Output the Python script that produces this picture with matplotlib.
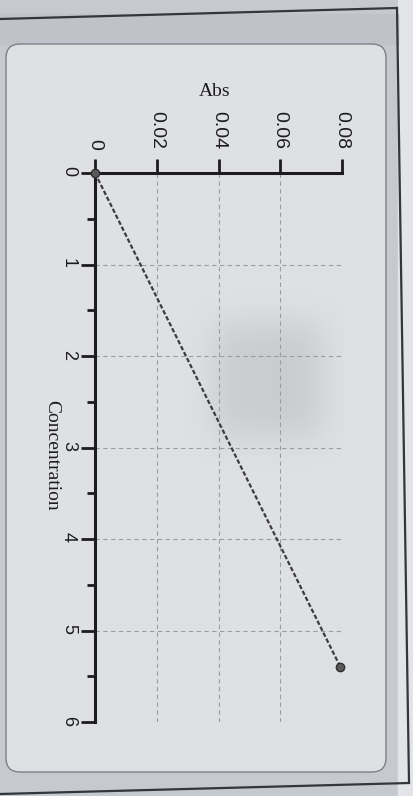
import matplotlib.pyplot as plt
import numpy as np
from matplotlib.patches import FancyBboxPatch, Rectangle
from matplotlib.ticker import MultipleLocator

# calibration data (photo of instrument screen, rotated 90 deg)
concentration = [0.0, 5.4]
absorbance = [0.0, 0.0795]

abs_ticks = [0, 0.02, 0.04, 0.06, 0.08]
abs_labels = ['0', '0.02', '0.04', '0.06', '0.08']
conc_ticks = [0, 1, 2, 3, 4, 5, 6]
conc_labels = ['0', '1', '2', '3', '4', '5', '6']

W, H = 413, 796
fig = plt.figure(figsize=(W / 100, H / 100), dpi=100, facecolor='#c6c9ce')

# background: paper, frame and screen panel
bg = fig.add_axes([0, 0, 1, 1])
bg.set_xlim(0, W)
bg.set_ylim(H, 0)
bg.axis('off')
bg.add_patch(Rectangle((398, 0), 20, H, color='#e2e4e7', zorder=0))
bg.add_patch(Rectangle((0, 14), 398, 30, color='#bfc2c8', zorder=0))
bg.add_patch(FancyBboxPatch((6, 44), 380, 728,
                            boxstyle='round,pad=0,rounding_size=14',
                            fc='#dee0e4', ec='#7d8086', lw=1.0, zorder=1))
bg.plot([0, 397], [19, 8], color='#33363a', lw=1.6, zorder=2)
bg.plot([397, 409], [8, 782], color='#33363a', lw=1.6, zorder=2)
bg.plot([0, 409], [794, 783], color='#33363a', lw=1.6, zorder=2)

# grey smudge from the photo
yy, xx = np.mgrid[0:1:120j, 0:1:120j]
blob = np.exp(-(((xx - 0.55) / 0.35) ** 4 + ((yy - 0.5) / 0.35) ** 4))
img = np.zeros((120, 120, 4))
img[..., :3] = 0.62
img[..., 3] = 0.3 * blob
bg.imshow(img, extent=(175, 345, 470, 290), zorder=1.5, aspect='auto')

# chart
ax = fig.add_axes([95 / W, 1 - 722 / H, (342 - 95) / W, (722 - 173) / H])
ax.set_facecolor('none')
ax.set_xlim(0, 0.08)
ax.set_ylim(6, 0)

ax.plot(absorbance, concentration, color='#3c3c3c', lw=1.6, ls=(0, (2, 1)),
        marker='o', ms=6, mfc='#5a5a5a', mec='#2e2e2e', zorder=3,
        clip_on=False)

ax.xaxis.tick_top()
ax.set_xticks(abs_ticks)
ax.set_xticklabels(abs_labels)
ax.set_yticks(conc_ticks)
ax.set_yticklabels(conc_labels)
ax.yaxis.set_minor_locator(MultipleLocator(0.5))

ax.tick_params(axis='x', direction='out', length=10, width=2, pad=7,
               labelsize=14, labelrotation=-90, colors='#1c1c1c')
ax.tick_params(axis='y', which='major', direction='out', length=10, width=2,
               pad=3, labelsize=13, labelrotation=-90, colors='#1c1c1c')
ax.tick_params(axis='y', which='minor', direction='out', length=6, width=2,
               colors='#1c1c1c')
for lab in ax.get_xticklabels() + ax.get_yticklabels():
    lab.set_family('Liberation Sans')

for side in ['right', 'bottom']:
    ax.spines[side].set_visible(False)
for side in ['top', 'left']:
    ax.spines[side].set_linewidth(2.2)
    ax.spines[side].set_color('#1c1c1c')

ax.grid(True, which='major', ls=(0, (4, 3)), color='#9a9da2', lw=0.8)

fig.text(215 / W, 1 - 92 / H, 'Abs', ha='center', va='center',
         fontsize=14, family='Liberation Serif', color='#1c1c1c')
fig.text(52 / W, 1 - 455 / H, 'Concentration', ha='center', va='center',
         rotation=-90, fontsize=14, family='Liberation Serif', color='#1c1c1c')

fig.savefig('out.png', dpi=100, facecolor=fig.get_facecolor())
